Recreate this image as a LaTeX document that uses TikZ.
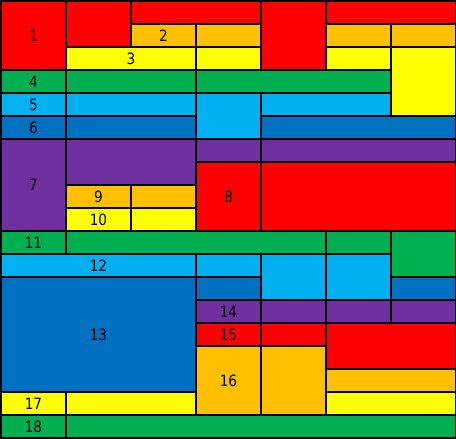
\documentclass[tikz,border=0pt]{standalone}
\usepackage{fontspec}
\setmainfont{DejaVu Sans}[FakeStretch=0.88]
\definecolor{cR}{HTML}{FF0000}
\definecolor{cO}{HTML}{FFC000}
\definecolor{cY}{HTML}{FFFF00}
\definecolor{cG}{HTML}{00B050}
\definecolor{cL}{HTML}{00B0F0}
\definecolor{cB}{HTML}{0070C0}
\definecolor{cP}{HTML}{7030A0}
\tikzset{
  blkline/.style={draw=black, line width=2pt},
  lbl/.style={font=\fontsize{15.5}{18}\selectfont, text=black, inner sep=0pt}
}
% name, c1, c2, r1, r2, colour, label
\newcommand\lblk[7]{%
  \filldraw[blkline, fill=#6] ({1+65*#2},{1+23*#4}) rectangle ({1+65*#3},{1+23*#5});
  \node[lbl] (#1) at ({1+65*(#2+#3)/2},{1+23*(#4+#5)/2}) {#7};}
% c1, c2, r1, r2, colour
\newcommand\blk[5]{%
  \filldraw[blkline, fill=#5] ({1+65*#1},{1+23*#3}) rectangle ({1+65*#2},{1+23*#4});}
\begin{document}
\begin{tikzpicture}[x=1pt,y=-1pt]
\useasboundingbox (0,0) rectangle (456,439);
% rows 0-2
\lblk{b1}{0}{1}{0}{3}{cR}{1}
\blk{1}{2}{0}{2}{cR}
\blk{2}{4}{0}{1}{cR}
\blk{4}{5}{0}{3}{cR}
\blk{5}{7}{0}{1}{cR}
\lblk{b2}{2}{3}{1}{2}{cO}{2}
\blk{3}{4}{1}{2}{cO}
\lblk{b3}{1}{3}{2}{3}{cY}{3}
\blk{3}{4}{2}{3}{cY}
\blk{5}{6}{1}{2}{cO}
\blk{6}{7}{1}{2}{cO}
\blk{5}{6}{2}{3}{cY}
\blk{6}{7}{2}{5}{cY}
% row 3
\lblk{b4}{0}{1}{3}{4}{cG}{4}
\blk{1}{3}{3}{4}{cG}
\blk{3}{6}{3}{4}{cG}
% row 4
\lblk{b5}{0}{1}{4}{5}{cL}{5}
\blk{1}{3}{4}{5}{cL}
\blk{3}{4}{4}{6}{cL}
\blk{4}{6}{4}{5}{cL}
% row 5
\lblk{b6}{0}{1}{5}{6}{cB}{6}
\blk{1}{3}{5}{6}{cB}
\blk{4}{7}{5}{6}{cB}
% rows 6-9
\lblk{b7}{0}{1}{6}{10}{cP}{7}
\blk{1}{3}{6}{8}{cP}
\blk{3}{4}{6}{7}{cP}
\blk{4}{7}{6}{7}{cP}
\lblk{b8}{3}{4}{7}{10}{cR}{8}
\blk{4}{7}{7}{10}{cR}
\lblk{b9}{1}{2}{8}{9}{cO}{9}
\blk{2}{3}{8}{9}{cO}
\lblk{b10}{1}{2}{9}{10}{cY}{10}
\blk{2}{3}{9}{10}{cY}
% row 10
\lblk{b11}{0}{1}{10}{11}{cG}{11}
\blk{1}{5}{10}{11}{cG}
\blk{5}{6}{10}{11}{cG}
\blk{6}{7}{10}{12}{cG}
% row 11
\lblk{b12}{0}{3}{11}{12}{cL}{12}
\blk{3}{4}{11}{12}{cL}
\blk{4}{5}{11}{13}{cL}
\blk{5}{6}{11}{13}{cL}
% row 12
\lblk{b13}{0}{3}{12}{17}{cB}{13}
\blk{3}{4}{12}{13}{cB}
\blk{6}{7}{12}{13}{cB}
% row 13
\lblk{b14}{3}{4}{13}{14}{cP}{14}
\blk{4}{5}{13}{14}{cP}
\blk{5}{6}{13}{14}{cP}
\blk{6}{7}{13}{14}{cP}
% row 14
\lblk{b15}{3}{4}{14}{15}{cR}{15}
\blk{4}{5}{14}{15}{cR}
\blk{5}{7}{14}{16}{cR}
% rows 15-17
\lblk{b16}{3}{4}{15}{18}{cO}{16}
\blk{4}{5}{15}{18}{cO}
\blk{5}{7}{16}{17}{cO}
\lblk{b17}{0}{1}{17}{18}{cY}{17}
\blk{1}{3}{17}{18}{cY}
\blk{5}{7}{17}{18}{cY}
% row 18
\lblk{b18}{0}{1}{18}{19}{cG}{18}
\blk{1}{7}{18}{19}{cG}
\end{tikzpicture}
\end{document}
